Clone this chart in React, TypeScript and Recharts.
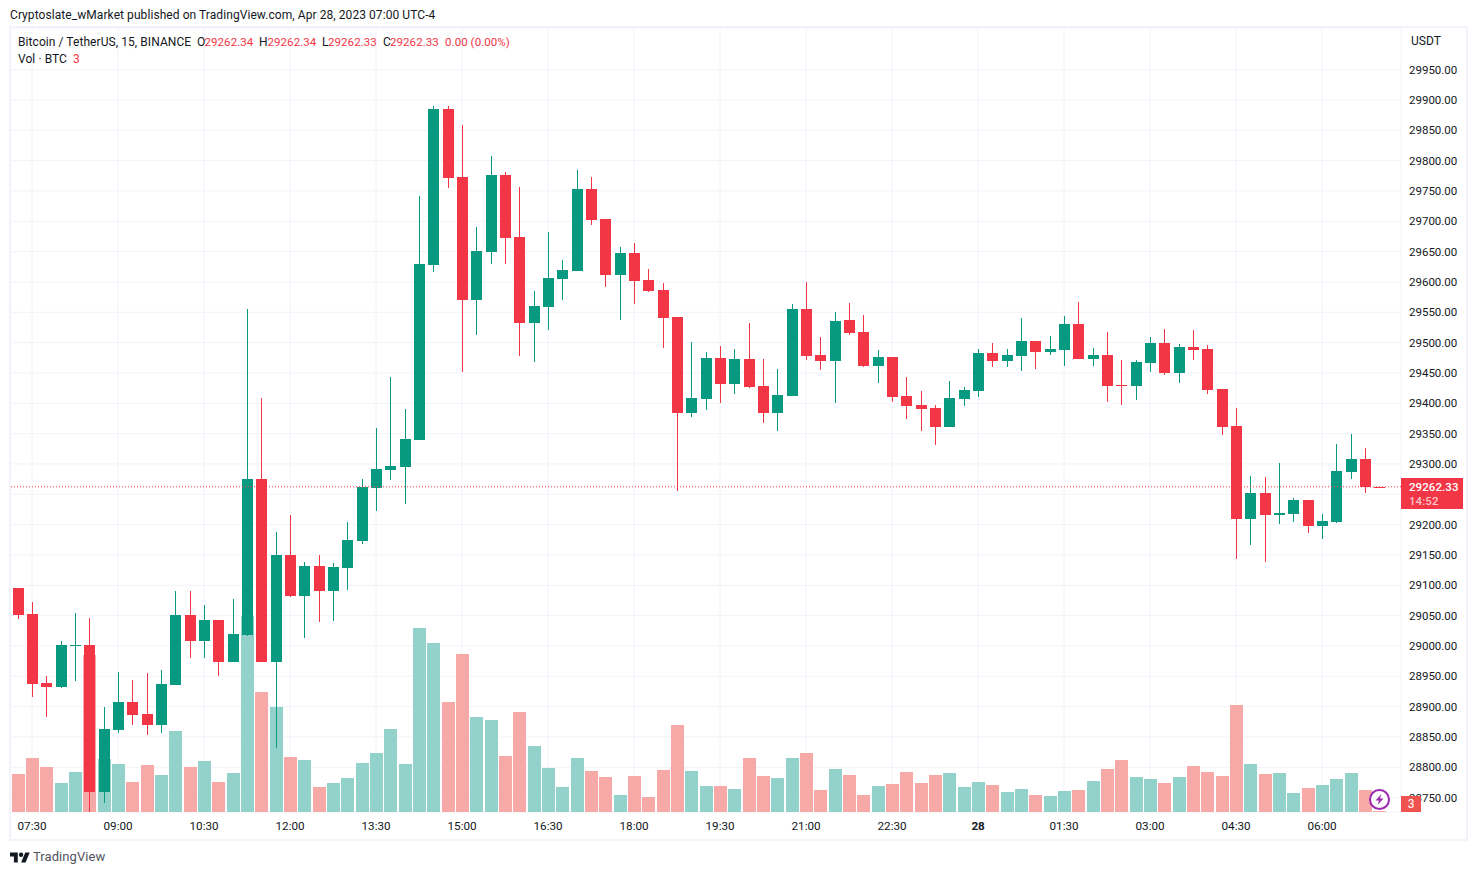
import { ComposedChart, Bar, XAxis, YAxis, CartesianGrid, ReferenceLine } from 'recharts'

const UP = '#089981'
const DOWN = '#F23645'
const VOL_UP = '#92d2cb'
const VOL_DOWN = '#f7a9a7'
const FONT = 'Roboto, sans-serif'

// 15 minute bars, 07:15 on Apr 27 through 07:00 on Apr 28
const times = [
    '07:15', '07:30', '07:45', '08:00', '08:15', '08:30', '08:45', '09:00', '09:15', '09:30', '09:45', '10:00',
    '10:15', '10:30', '10:45', '11:00', '11:15', '11:30', '11:45', '12:00', '12:15', '12:30', '12:45', '13:00',
    '13:15', '13:30', '13:45', '14:00', '14:15', '14:30', '14:45', '15:00', '15:15', '15:30', '15:45', '16:00',
    '16:15', '16:30', '16:45', '17:00', '17:15', '17:30', '17:45', '18:00', '18:15', '18:30', '18:45', '19:00',
    '19:15', '19:30', '19:45', '20:00', '20:15', '20:30', '20:45', '21:00', '21:15', '21:30', '21:45', '22:00',
    '22:15', '22:30', '22:45', '23:00', '23:15', '23:30', '23:45', '00:00', '00:15', '00:30', '00:45', '01:00',
    '01:15', '01:30', '01:45', '02:00', '02:15', '02:30', '02:45', '03:00', '03:15', '03:30', '03:45', '04:00',
    '04:15', '04:30', '04:45', '05:00', '05:15', '05:30', '05:45', '06:00', '06:15', '06:30', '06:45', '07:00',
]

const opens = [
    29095, 29053, 28939, 28932, 29000, 29002, 28759, 28861, 28908, 28888, 28870, 28936,
    29051, 29008, 29043, 28974, 29018, 29275, 28974, 29150, 29082, 29132, 29091, 29129,
    29173, 29260, 29290, 29295, 29340, 29628, 29885, 29773, 29570, 29649, 29776, 29674,
    29532, 29559, 29605, 29618, 29753, 29704, 29611, 29648, 29603, 29587, 29542, 29384,
    29407, 29475, 29432, 29473, 29429, 29384, 29412, 29555, 29480, 29470, 29537, 29518,
    29461, 29476, 29412, 29397, 29392, 29361, 29407, 29420, 29483, 29470, 29478, 29503,
    29485, 29488, 29531, 29473, 29480, 29430, 29429, 29466, 29499, 29450, 29493, 29490,
    29424, 29363, 29209, 29252, 29216, 29217, 29241, 29198, 29204, 29287, 29308, 29262.34,
]
const highs = [
    29095, 29072, 28950, 29008, 29054, 29046, 28899, 28957, 28944, 28955, 28960, 29091,
    29091, 29067, 29043, 29077, 29555, 29409, 29188, 29216, 29138, 29150, 29137, 29204,
    29275, 29359, 29443, 29391, 29742, 29890, 29890, 29859, 29691, 29808, 29781, 29757,
    29585, 29682, 29636, 29785, 29773, 29704, 29658, 29664, 29621, 29598, 29542, 29501,
    29485, 29494, 29490, 29532, 29473, 29457, 29564, 29600, 29509, 29551, 29565, 29546,
    29488, 29476, 29443, 29420, 29397, 29437, 29427, 29490, 29499, 29490, 29541, 29503,
    29511, 29544, 29567, 29491, 29518, 29471, 29471, 29509, 29522, 29498, 29521, 29496,
    29424, 29392, 29280, 29279, 29302, 29244, 29241, 29217, 29333, 29349, 29326, 29262.34,
]
const lows = [
    29044, 28916, 28883, 28931, 28942, 28726, 28741, 28857, 28870, 28853, 28857, 28936,
    28980, 28980, 28950, 28974, 29016, 28974, 28832, 29081, 29013, 29040, 29041, 29092,
    29168, 29222, 29274, 29234, 29340, 29616, 29755, 29452, 29513, 29630, 29630, 29478,
    29468, 29521, 29570, 29618, 29694, 29592, 29537, 29564, 29584, 29491, 29255, 29377,
    29389, 29400, 29415, 29425, 29367, 29354, 29412, 29471, 29455, 29400, 29513, 29460,
    29433, 29402, 29374, 29354, 29331, 29361, 29396, 29410, 29460, 29460, 29453, 29457,
    29480, 29461, 29473, 29461, 29402, 29397, 29405, 29452, 29447, 29433, 29471, 29415,
    29348, 29143, 29166, 29138, 29201, 29204, 29186, 29176, 29203, 29275, 29252, 29262.33,
]
const closes = [
    29051, 28937, 28932, 29002, 29002, 28759, 28863, 28908, 28886, 28870, 28937, 29051,
    29008, 29043, 28974, 29020, 29275, 28974, 29150, 29082, 29132, 29091, 29130, 29175,
    29262, 29292, 29297, 29341, 29630, 29885, 29771, 29570, 29651, 29776, 29673, 29532,
    29560, 29607, 29620, 29753, 29702, 29611, 29648, 29602, 29585, 29541, 29384, 29409,
    29475, 29432, 29473, 29427, 29384, 29414, 29555, 29478, 29470, 29536, 29516, 29461,
    29476, 29410, 29396, 29391, 29361, 29409, 29422, 29483, 29470, 29480, 29503, 29485,
    29490, 29531, 29473, 29480, 29429, 29429, 29468, 29499, 29450, 29493, 29488, 29422,
    29361, 29209, 29252, 29216, 29219, 29241, 29198, 29206, 29288, 29308, 29262, 29262.33,
]
const volumes = [
    152, 216, 180, 116, 160, 628, 212, 192, 120, 188, 148, 324,
    180, 204, 120, 156, 784, 480, 420, 220, 208, 100, 116, 136,
    196, 236, 332, 192, 736, 676, 440, 632, 380, 368, 224, 400,
    264, 176, 100, 216, 164, 140, 68, 144, 60, 168, 348, 164,
    104, 104, 92, 216, 144, 136, 216, 236, 88, 172, 148, 68,
    104, 112, 160, 116, 148, 156, 100, 120, 108, 80, 92, 68,
    64, 84, 88, 124, 172, 208, 140, 132, 116, 140, 184, 160,
    144, 428, 192, 152, 156, 76, 96, 108, 132, 156, 88, 3,
]

const timeTicks = ['07:30', '09:00', '10:30', '12:00', '13:30', '15:00', '16:30', '18:00', '19:30', '21:00', '22:30', '00:00', '01:30', '03:00', '04:30', '06:00']
const priceTicks = [
    28750, 28800, 28850, 28900, 28950, 29000, 29050, 29100, 29150, 29200, 29250, 29300, 29350,
    29400, 29450, 29500, 29550, 29600, 29650, 29700, 29750, 29800, 29850, 29900, 29950,
]
const priceDomain = [28726.3, 30018.6]
const volumeDomain = [0, 3136]
const lastPrice = 29262.33
// this label sits behind the last price tag in the original
const coveredPriceTick = 29250
const xPadding = { left: 0.6, right: 14.4 }

const rows = times.map((time, i) => ({
    time,
    isUp: closes[i] >= opens[i],
    wick: [lows[i], highs[i]],
    body: [Math.min(opens[i], closes[i]), Math.max(opens[i], closes[i])],
    volume: volumes[i],
}))

// snap to whole pixels so the candles stay crisp like the original
const BodyShape = (props: any) => {
    const { x, y, width, height, payload } = props
    const top = Math.round(y)
    const h = Math.max(Math.round(y + height) - top, 1)
    return <rect x={Math.round(x)} y={top} width={width} height={h} fill={payload.isUp ? UP : DOWN} />
}

const WickShape = (props: any) => {
    const { x, y, width, height, payload } = props
    const top = Math.round(y)
    const h = Math.max(Math.round(y + height) - top, 1)
    return <rect x={Math.round(x + width / 2 - 5.5) + 5} y={top} width={1} height={h} fill={payload.isUp ? UP : DOWN} />
}

const VolumeShape = (props: any) => {
    const { x, y, width, height, payload } = props
    const top = Math.round(y)
    const h = Math.max(Math.round(y + height) - top, 1)
    return <rect x={Math.round(x)} y={top} width={width} height={h} fill={payload.isUp ? VOL_UP : VOL_DOWN} />
}

const TimeTick = (props: any) => {
    const { x, y, payload } = props
    const isDay = payload.value === '00:00'
    return (
        <text x={x} y={y + 6} textAnchor="middle" dominantBaseline="central" fontFamily={FONT} fontSize={11.7} fontWeight={isDay ? 700 : 400} fill="#131722">
            {isDay ? '28' : payload.value}
        </text>
    )
}

const PriceTick = (props: any) => {
    const { x, y, payload } = props
    if (payload.value === coveredPriceTick) return <g />
    return (
        <text x={x} y={y} textAnchor="start" dominantBaseline="central" fontFamily={FONT} fontSize={11.5} fill="#131722">
            {payload.value.toFixed(2)}
        </text>
    )
}

const abs = (left: number, top: number, extra: any = {}) => ({
    position: 'absolute' as const,
    left,
    top,
    whiteSpace: 'nowrap' as const,
    lineHeight: '14px',
    fontSize: 12,
    letterSpacing: 0.07,
    color: '#131722',
    ...extra,
})

const legendValues = [
    { text: 'O', x: 197, red: false },
    { text: '29262.34', x: 204.5, red: true },
    { text: 'H', x: 259, red: false },
    { text: '29262.34', x: 267.5, red: true },
    { text: 'L', x: 322, red: false },
    { text: '29262.33', x: 328, red: true },
    { text: 'C', x: 383, red: false },
    { text: '29262.33', x: 390, red: true },
    { text: '0.00 (0.00%)', x: 445, red: true },
]

export default function App() {
    return (
        <div style={{ position: 'relative', width: 1477, height: 875, background: '#fff', fontFamily: FONT, overflow: 'hidden' }}>
            <style>{'body{margin:0}'}</style>
            <ComposedChart
                width={1477}
                height={875}
                data={rows}
                margin={{ top: 28, right: 10, bottom: 35, left: 10 }}
                barCategoryGap={0}
            >
                <CartesianGrid stroke="#f0f3fa" strokeWidth={1} xAxisId="main" yAxisId="price" />
                <XAxis
                    xAxisId="main"
                    dataKey="time"
                    ticks={timeTicks}
                    interval={0}
                    height={28}
                    axisLine={false}
                    tickLine={false}
                    padding={xPadding}
                    tick={TimeTick}
                />
                <XAxis xAxisId="wick" dataKey="time" hide height={0} padding={xPadding} />
                <XAxis xAxisId="body" dataKey="time" hide height={0} padding={xPadding} />
                <YAxis
                    yAxisId="price"
                    orientation="right"
                    width={66}
                    domain={priceDomain}
                    ticks={priceTicks}
                    interval={0}
                    allowDataOverflow
                    axisLine={false}
                    tickLine={false}
                    tickSize={0}
                    tickMargin={8}
                    tick={PriceTick}
                />
                <YAxis yAxisId="vol" hide domain={volumeDomain} allowDataOverflow />
                <Bar xAxisId="main" yAxisId="vol" dataKey="volume" barSize={13} shape={VolumeShape} isAnimationActive={false} />
                <ReferenceLine xAxisId="main" yAxisId="price" y={lastPrice} stroke={DOWN} strokeDasharray="1 2" />
                <Bar xAxisId="wick" yAxisId="price" dataKey="wick" barSize={1} shape={WickShape} isAnimationActive={false} />
                <Bar xAxisId="body" yAxisId="price" dataKey="body" barSize={11} shape={BodyShape} isAnimationActive={false} />
            </ComposedChart>

            {/* frame round the chart */}
            <div style={{ position: 'absolute', left: 9, top: 26, width: 1455, height: 811, border: '2px solid #f0f3fa', pointerEvents: 'none' }} />

            <div style={abs(10, 8)}>Cryptoslate_wMarket published on TradingView.com, Apr 28, 2023 07:00 UTC-4</div>
            <div style={abs(18, 35)}>Bitcoin / TetherUS, 15, BINANCE</div>
            {legendValues.map(v => (
                <div key={v.x} style={abs(v.x, 35, v.red ? { color: DOWN, fontSize: 11.5 } : {})}>{v.text}</div>
            ))}
            <div style={abs(18, 52)}>Vol · BTC</div>
            <div style={abs(73, 52, { color: DOWN })}>3</div>
            <div style={abs(1411, 34)}>USDT</div>

            {/* last price tag */}
            <div style={{ position: 'absolute', left: 1401, top: 478, width: 62, height: 31, background: DOWN }} />
            <div style={abs(1409, 480, { color: '#fff', fontSize: 11.5, fontWeight: 500 })}>29262.33</div>
            <div style={abs(1409, 494, { color: '#fbc4c9', fontSize: 11.5, fontWeight: 500 })}>14:52</div>

            {/* volume tag */}
            <div style={{ position: 'absolute', left: 1401, top: 796, width: 20, height: 16, background: '#ef5350', color: '#fff', fontSize: 12, lineHeight: '16px', textAlign: 'center' }}>3</div>

            {/* lightning badge */}
            <svg style={{ position: 'absolute', left: 1368, top: 788 }} width={23} height={23} viewBox="0 0 23 23">
                <circle cx={11.5} cy={11.5} r={9.5} fill="#fff" stroke="#9c27b0" strokeWidth={2} />
                <path d="M13.5 6 L7.5 12.5 H11 L9.5 17 L15.5 10.5 H12 Z" fill="#9c27b0" />
            </svg>

            {/* footer */}
            <svg style={{ position: 'absolute', left: 10, top: 852 }} width={20} height={11} viewBox="0 4 36 18">
                <path d="M14 22H7V11H0V4h14v18zM28 22h-8l7.5-18h8L28 22z" fill="#131722" />
                <circle cx={20} cy={8} r={4} fill="#131722" />
            </svg>
            <div style={abs(33, 850, { fontSize: 13, color: '#50535e' })}>TradingView</div>
        </div>
    )
}
